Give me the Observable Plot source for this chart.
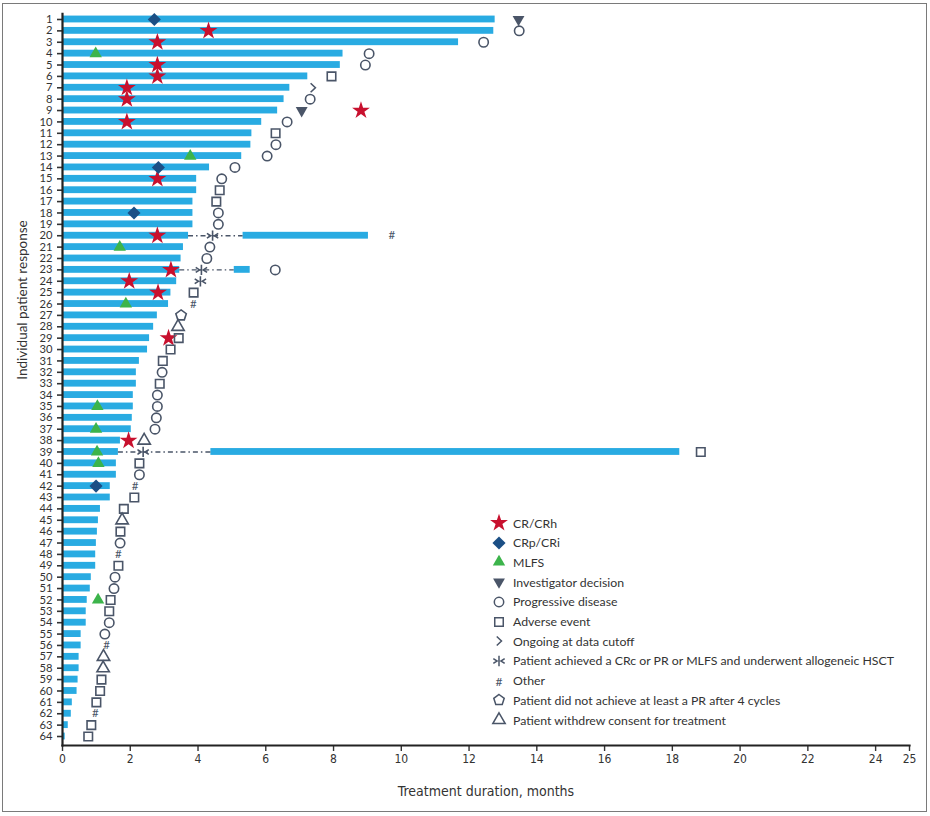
<!DOCTYPE html>
<html>
<head>
<meta charset="utf-8">
<script src="https://cdn.jsdelivr.net/npm/d3@7"></script>
<script src="https://cdn.jsdelivr.net/npm/@observablehq/plot@0.6"></script>
<style>
html,body{margin:0;padding:0;background:#fff;}
#wrap{position:relative;width:930px;height:816px;overflow:hidden;font-family:Lato,"Noto Sans",sans-serif;}
#frame{position:absolute;left:2px;top:3px;width:923px;height:807px;border:1px solid #7a7a7a;pointer-events:none;}
#legend{position:absolute;left:491px;top:0;color:#333;font-size:12.3px;}
.li{position:absolute;left:0;height:18px;display:flex;align-items:center;white-space:nowrap;}
.li svg{width:16px;height:16px;flex:none;margin-right:6px;overflow:visible;}
</style>
</head>
<body>
<div id="wrap"><div id="chart"></div><div id="legend"></div><div id="frame"></div></div>
<script>
// ---------- data ----------
const patients = d3.range(1, 65).map(String);
const treatmentEnd = [
  12.77, 12.73, 11.69, 8.28, 8.20, 7.24, 6.71, 6.54, 6.35, 5.88,
  5.59, 5.56, 5.29, 4.34, 3.96, 3.96, 3.85, 3.85, 3.85, 3.72,
  3.57, 3.50, 3.46, 3.37, 3.20, 3.13, 2.80, 2.69, 2.57, 2.51,
  2.27, 2.18, 2.18, 2.09, 2.09, 2.06, 2.03, 1.71, 1.65, 1.59,
  1.59, 1.41, 1.41, 1.12, 1.06, 1.03, 1.00, 0.98, 0.98, 0.85,
  0.82, 0.73, 0.70, 0.70, 0.55, 0.55, 0.49, 0.49, 0.46, 0.43,
  0.29, 0.26, 0.17, 0.08
];
// treatment resumed after allogeneic HSCT
const hsctPatients = [20, 23, 39];
const resumedStart = [5.33, 5.07, 4.38];
const resumedEnd = [9.03, 5.54, 18.22];

// markers: [patient, month]
const crCRh = [[2,4.31],[3,2.80],[5,2.80],[6,2.80],[7,1.90],[8,1.90],[9,8.81],[10,1.90],[15,2.80],[20,2.80],[23,3.20],[24,1.97],[25,2.82],[29,3.13],[38,1.95]];
const crpCRi = [[1,2.71],[14,2.83],[18,2.11],[42,0.99]];
const mlfs = [[4,0.98],[13,3.77],[21,1.69],[26,1.87],[35,1.03],[37,0.99],[39,1.02],[40,1.06],[52,1.05]];
const investigator = [[1,13.46],[9,7.06]];
const progressive = [[2,13.48],[3,12.43],[4,9.05],[5,8.94],[8,7.31],[10,6.63],[12,6.30],[13,6.04],[14,5.09],[15,4.70],[18,4.60],[19,4.60],[21,4.35],[22,4.26],[23,6.28],[32,2.94],[34,2.80],[35,2.80],[36,2.77],[37,2.73],[41,2.27],[47,1.70],[50,1.55],[51,1.52],[54,1.38],[55,1.25]];
const adverse = [[6,7.94],[11,6.29],[16,4.64],[17,4.54],[25,3.87],[29,3.43],[30,3.19],[31,2.96],[33,2.87],[39,18.84],[40,2.27],[43,2.12],[44,1.81],[46,1.71],[49,1.65],[52,1.42],[53,1.38],[59,1.15],[60,1.11],[61,1.00],[63,0.85],[64,0.76]];
const ongoing = [[7,7.39]];
const hsct = [[20,4.43],[23,4.10],[24,4.07],[39,2.38]];
const other = [[20,9.72],[26,3.86],[42,2.14],[48,1.65],[56,1.30],[62,0.97]];
const noPR = [[27,3.50]];
const withdrew = [[28,3.41],[38,2.41],[45,1.76],[57,1.21],[58,1.20]];

const xTicks = [0,2,4,6,8,10,12,14,16,18,20,22,24,25];
const legendLabels = ["CR/CRh","CRp/CRi","MLFS","Investigator decision","Progressive disease","Adverse event","Ongoing at data cutoff","Patient achieved a CRc or PR or MLFS and underwent allogeneic HSCT","Other","Patient did not achieve at least a PR after 4 cycles","Patient withdrew consent for treatment"];

// ---------- styles ----------
const BAR = "#29abe2", RED = "#c8102e", NAVY = "#1b4f85", GREEN = "#3cb44b", GRAY = "#4a5568";

const invTriangle = {draw(ctx, size){
  const y = -Math.sqrt(size / (3 * Math.sqrt(3)));
  ctx.moveTo(0, -2 * y); ctx.lineTo(-Math.sqrt(3) * y, y); ctx.lineTo(Math.sqrt(3) * y, y); ctx.closePath();
}};
const pentagon = {draw(ctx, size){
  const r = Math.sqrt(size / Math.PI) * 1.12;
  for (let k = 0; k < 5; k++) {
    const a = -Math.PI / 2 + k * 2 * Math.PI / 5;
    k ? ctx.lineTo(r * Math.cos(a), r * Math.sin(a)) : ctx.moveTo(r * Math.cos(a), r * Math.sin(a));
  }
  ctx.closePath();
}};
const chevron = {draw(ctx, size){
  const r = Math.sqrt(size / Math.PI);
  ctx.moveTo(-0.45 * r, -0.9 * r); ctx.lineTo(0.5 * r, 0); ctx.lineTo(-0.45 * r, 0.9 * r);
}};
const hsctSym = {draw(ctx, size){
  const r = Math.sqrt(size / Math.PI);
  ctx.moveTo(0, -0.95 * r); ctx.lineTo(0, 0.95 * r);
  ctx.moveTo(-1.05 * r, -0.45 * r); ctx.lineTo(-0.35 * r, 0); ctx.lineTo(-1.05 * r, 0.45 * r);
  ctx.moveTo(1.05 * r, -0.45 * r); ctx.lineTo(0.35 * r, 0); ctx.lineTo(1.05 * r, 0.45 * r);
}};

const styles = [
  {symbol: d3.symbolStar, r: 5.6, fill: RED},
  {symbol: d3.symbolDiamond2, r: 5.9, fill: NAVY},
  {symbol: d3.symbolTriangle, r: 4.6, fill: GREEN},
  {symbol: invTriangle, r: 4.4, fill: GRAY},
  {symbol: d3.symbolCircle, r: 4.7, stroke: GRAY},
  {symbol: d3.symbolSquare, r: 4.8, stroke: GRAY},
  {symbol: chevron, r: 5.0, stroke: GRAY},
  {symbol: hsctSym, r: 5.4, stroke: GRAY},
  {text: "#"},
  {symbol: pentagon, r: 4.9, stroke: GRAY},
  {symbol: d3.symbolTriangle, r: 4.6, stroke: GRAY}
];
const markerSets = [crCRh, crpCRi, mlfs, investigator, progressive, adverse, ongoing, hsct, other, noPR, withdrew];

// ---------- build tables ----------
const rows = (arr) => arr.map(([id, x]) => ({id: String(id), x}));
const bars = treatmentEnd.map((e, i) => ({id: patients[i], x1: 0, x2: e}));
const resumed = hsctPatients.map((p, i) => ({id: String(p), x1: resumedStart[i], x2: resumedEnd[i]}));
const gaps = hsctPatients.map((p, i) => ({id: String(p), x1: treatmentEnd[p - 1], x2: resumedStart[i]}));

const markMarks = markerSets.map((set, i) => {
  const s = styles[i];
  if (s.text) return Plot.text(rows(set), {x: "x", y: "id", text: () => s.text, fontSize: 11.5, fill: GRAY, fontFamily: "Lato"});
  const o = {x: "x", y: "id", symbol: s.symbol, r: s.r};
  if (s.fill) { o.fill = s.fill; o.stroke = "none"; }
  else { o.fill = "none"; o.stroke = s.stroke; o.strokeWidth = 1.6; }
  return Plot.dot(rows(set), o);
});

const chart = Plot.plot({
  width: 930,
  height: 816,
  marginLeft: 62,
  marginRight: 21,
  marginTop: 13.3,
  marginBottom: 71,
  insetBottom: 3.3,
  style: {fontFamily: "Lato, 'Noto Sans', sans-serif", fontSize: "12px", color: "#333", background: "transparent"},
  x: {domain: [0, 25]},
  y: {type: "band", domain: patients, paddingInner: 0.4, paddingOuter: 0.2, round: false},
  marks: [
    Plot.barX(bars, {y: "id", x1: "x1", x2: "x2", fill: BAR}),
    Plot.barX(resumed, {y: "id", x1: "x1", x2: "x2", fill: BAR}),
    Plot.ruleY(gaps, {y: "id", x1: "x1", x2: "x2", stroke: GRAY, strokeWidth: 1.3, strokeDasharray: "5,3,1.5,3"}),
    ...markMarks,
    Plot.axisY({tickSize: 5, tickPadding: 5, strokeWidth: 1.6, fontSize: 11.2, label: null}),
    Plot.axisX({ticks: xTicks, tickSize: 6, tickPadding: 3, strokeWidth: 1.4, fontSize: 12, label: null,
      fontFamily: "'Liberation Sans Narrow', 'DejaVu Sans Condensed', Lato, sans-serif"}),
    Plot.frame({anchor: "left", stroke: "#222", strokeWidth: 2.2}),
    Plot.frame({anchor: "bottom", stroke: "#222", strokeWidth: 2.2}),
    Plot.text(["Individual patient response"], {frameAnchor: "left", rotate: -90, dx: -40, fontSize: 13.5, fill: "#333"}),
    Plot.text(["Treatment duration, months"], {frameAnchor: "bottom", dy: 46, lineAnchor: "middle", fontSize: 14, fill: "#333",
      fontFamily: "'Liberation Sans Narrow', 'DejaVu Sans Condensed', Lato, sans-serif"})
  ]
});
document.getElementById("chart").appendChild(chart);

// ---------- legend ----------
const legend = document.getElementById("legend");
legendLabels.forEach((label, i) => {
  const s = styles[i];
  const item = document.createElement("div");
  item.className = "li";
  item.style.top = (523 + i * 19.7 - 9) + "px";
  let inner;
  if (s.text) {
    inner = `<text x="0" y="0" text-anchor="middle" dominant-baseline="central" font-size="12" fill="${GRAY}" font-family="Lato">${s.text}</text>`;
  } else {
    const d = d3.symbol(s.symbol, Math.PI * s.r * s.r)();
    inner = s.fill ? `<path d="${d}" fill="${s.fill}"/>` : `<path d="${d}" fill="none" stroke="${s.stroke}" stroke-width="1.5"/>`;
  }
  item.innerHTML = `<svg viewBox="-8 -8 16 16">${inner}</svg><span>${label}</span>`;
  legend.appendChild(item);
});
</script>
</body>
</html>
